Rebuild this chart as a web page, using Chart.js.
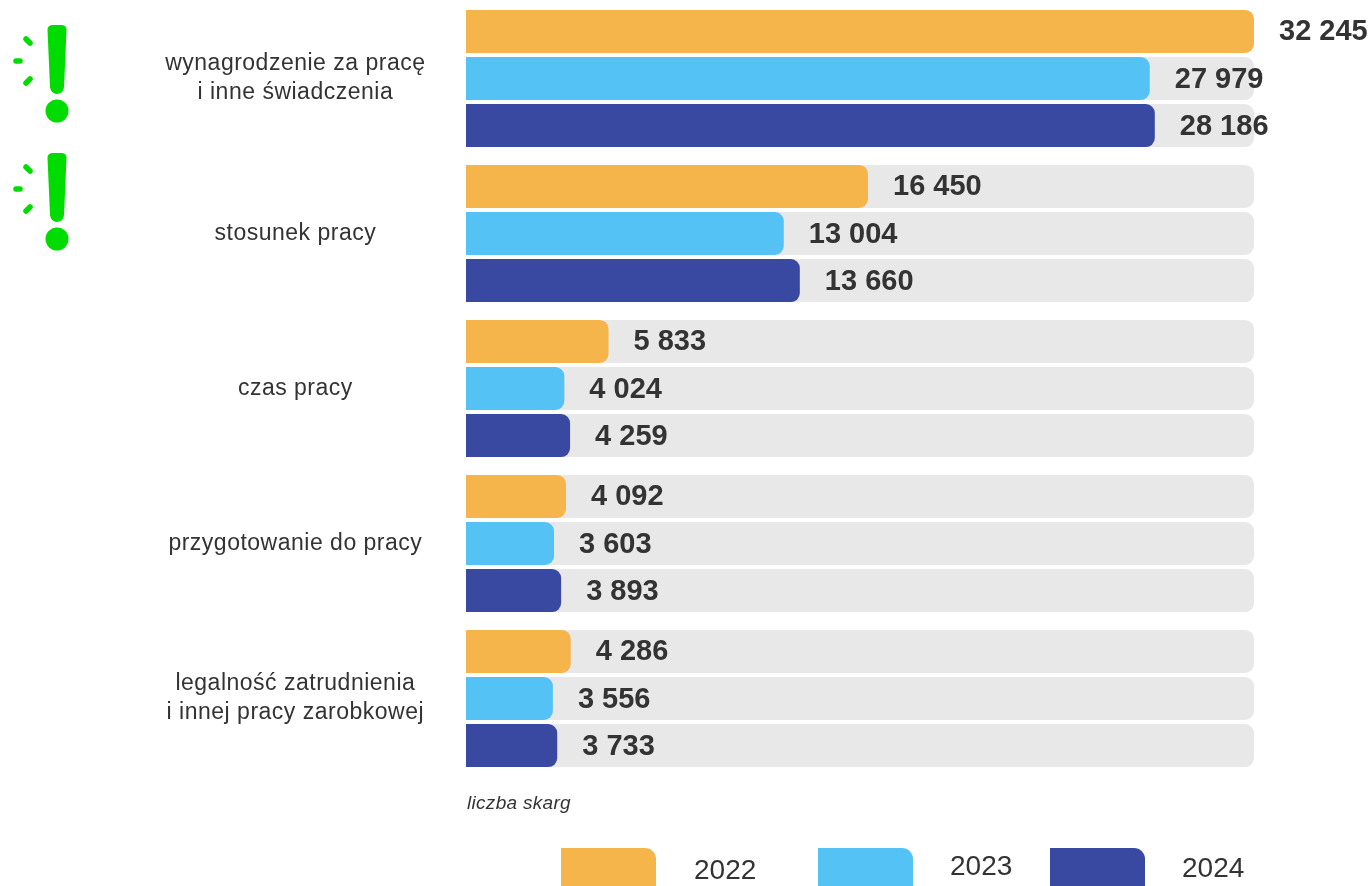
<!DOCTYPE html>
<html lang="pl">
<head>
<meta charset="utf-8">
<title>Liczba skarg</title>
<script src="https://cdn.jsdelivr.net/npm/chart.js@4"></script>
<style>
  html, body { margin: 0; padding: 0; background: #fff; overflow: hidden; }
  canvas { display: block; }
</style>
</head>
<body>
<canvas id="mainChart" width="1372" height="886"></canvas>
<script>
const categories = [
    ['wynagrodzenie za pracę', 'i inne świadczenia'],
    'stosunek pracy',
    'czas pracy',
    'przygotowanie do pracy',
    ['legalność zatrudnienia', 'i innej pracy zarobkowej']
];
const years = ['2022', '2023', '2024'];
const values2022 = [32245, 16450, 5833, 4092, 4286];
const values2023 = [27979, 13004, 4024, 3603, 3556];
const values2024 = [28186, 13660, 4259, 3893, 3733];
const trackValues = [32245, 32245, 32245, 32245, 32245];
const axisMax = 32245;
const unitLabel = 'liczba skarg';
const flaggedCategories = [0, 1];

const colors = ['#F5B54A', '#54C2F5', '#3949A1'];
const trackColor = '#E8E8E8';
const textColor = '#333333';
const green = '#00DC00';
const fontFamily = '"Liberation Sans", Arial, sans-serif';

const formatValue = v => String(v).replace(/\B(?=(\d{3})+$)/g, ' ');

const barDefaults = {
    categoryPercentage: 0.91,
    barPercentage: 0.915,
    borderSkipped: false,
    borderRadius: { topRight: 9, bottomRight: 9 }
};

const seriesData = [values2022, values2023, values2024];

const datasets = [
    ...years.map((year, i) => ({
        ...barDefaults,
        label: year,
        data: seriesData[i],
        backgroundColor: colors[i],
        stack: year,
        order: 0
    })),
    // grey rails share a stack slot with their year, so they sit right behind its bars
    ...years.map(year => ({
        ...barDefaults,
        label: 'tor ' + year,
        data: trackValues,
        backgroundColor: trackColor,
        stack: year,
        order: 1
    }))
];

// Wider tracking for the category labels, reset by the plugins below
const labelSpacing = {
    id: 'labelSpacing',
    beforeDraw(chart) {
        chart.ctx.letterSpacing = '0.5px';
    }
};

// Numbers to the right of each bar
const valueLabels = {
    id: 'valueLabels',
    afterDatasetsDraw(chart) {
        const { ctx } = chart;
        ctx.save();
        ctx.letterSpacing = '0px';
        ctx.font = 'bold 29px ' + fontFamily;
        ctx.fillStyle = textColor;
        ctx.textAlign = 'left';
        ctx.textBaseline = 'middle';
        years.forEach((year, i) => {
            chart.getDatasetMeta(i).data.forEach((bar, j) => {
                ctx.fillText(formatValue(seriesData[i][j]), bar.x + 25, bar.y + 1);
            });
        });
        ctx.restore();
    }
};

// Unit note and the year key under the plot
const footer = {
    id: 'footer',
    afterDraw(chart) {
        const { ctx, chartArea } = chart;
        ctx.save();
        ctx.letterSpacing = '0px';
        ctx.fillStyle = textColor;
        ctx.textBaseline = 'middle';
        ctx.letterSpacing = '0.3px';
        ctx.font = 'italic 19px ' + fontFamily;
        ctx.fillText(unitLabel, chartArea.left + 1, 804);

        const swatchX = [561, 818, 1050];
        const labelX = [694, 950, 1182];
        const labelY = [871, 867, 869];
        ctx.letterSpacing = '0px';
        ctx.font = '28px ' + fontFamily;
        years.forEach((year, i) => {
            ctx.fillStyle = colors[i];
            ctx.beginPath();
            ctx.roundRect(swatchX[i], 848, 95, 60, [0, 11, 11, 0]);
            ctx.fill();
            ctx.fillStyle = textColor;
            ctx.fillText(year, labelX[i], labelY[i]);
        });
        ctx.restore();
    }
};

// Green exclamation marks beside the flagged categories
const flags = {
    id: 'flags',
    afterDraw(chart) {
        const { ctx } = chart;
        flaggedCategories.forEach(index => {
            const top = index === 0 ? 25 : 153;
            ctx.save();
            ctx.translate(57, top);
            ctx.fillStyle = green;
            ctx.strokeStyle = green;
            ctx.lineCap = 'round';

            ctx.beginPath();
            ctx.moveTo(-9.5, 5);
            ctx.quadraticCurveTo(-9.5, 0, -4, 0);
            ctx.lineTo(4, 0);
            ctx.quadraticCurveTo(9.5, 0, 9.5, 5);
            ctx.lineTo(7, 62);
            ctx.quadraticCurveTo(6, 69, 0, 69);
            ctx.quadraticCurveTo(-6, 69, -7, 62);
            ctx.closePath();
            ctx.fill();

            ctx.beginPath();
            ctx.arc(0, 86, 11.5, 0, Math.PI * 2);
            ctx.fill();

            ctx.lineWidth = 5.5;
            [[-31, 14, -27, 18], [-41, 36, -37, 36], [-31, 58, -27, 54]].forEach(d => {
                ctx.beginPath();
                ctx.moveTo(d[0], d[1]);
                ctx.lineTo(d[2], d[3]);
                ctx.stroke();
            });
            ctx.restore();
        });
    }
};

new Chart(document.getElementById('mainChart').getContext('2d'), {
    type: 'bar',
    data: { labels: categories, datasets },
    plugins: [labelSpacing, valueLabels, footer, flags],
    options: {
        indexAxis: 'y',
        responsive: false,
        animation: false,
        layout: { padding: { top: 1, right: 118, bottom: 110, left: 0 } },
        plugins: {
            legend: { display: false },
            tooltip: { enabled: false }
        },
        scales: {
            x: {
                display: false,
                stacked: false,
                min: 0,
                max: axisMax
            },
            y: {
                type: 'category',
                stacked: true,
                offset: true,
                afterFit: scale => {
                    scale.width = 466;
                    scale.paddingTop = 0;
                    scale.paddingBottom = 0;
                },
                border: { display: false },
                grid: { display: false, drawTicks: false },
                ticks: {
                    autoSkip: false,
                    crossAlign: 'center',
                    padding: 46,
                    color: textColor,
                    font: { family: fontFamily, size: 23, lineHeight: 1.26 }
                }
            }
        }
    }
});
</script>
</body>
</html>
